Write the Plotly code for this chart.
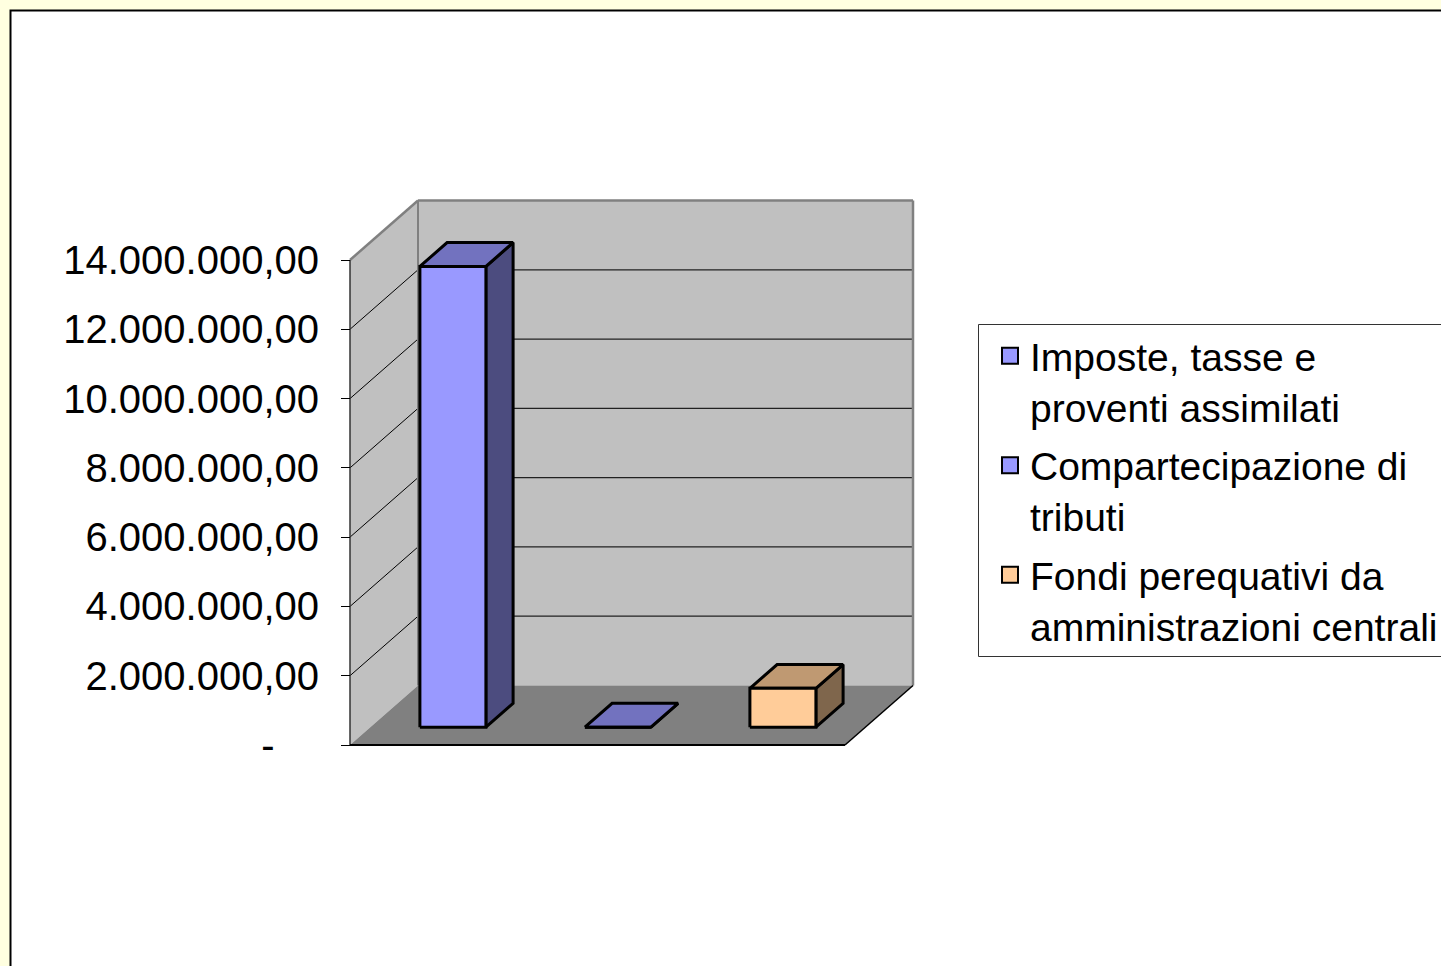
import plotly.graph_objects as go

# ---------------- data ----------------
categories = [
    "Imposte, tasse e proventi assimilati",
    "Compartecipazione di tributi",
    "Fondi perequativi da amministrazioni centrali",
]
legend_labels = [
    "Imposte, tasse e<br>proventi assimilati",
    "Compartecipazione di<br>tributi",
    "Fondi perequativi da<br>amministrazioni centrali",
]
values = [13300000, 0, 1120000]
bar_colors = ["#9999FF", "#9999FF", "#FFCC99"]
tick_values = [0, 2000000, 4000000, 6000000, 8000000, 10000000, 12000000, 14000000]
tick_labels = ["-\u00a0\u00a0\u00a0\u00a0", "2.000.000,00", "4.000.000,00", "6.000.000,00",
               "8.000.000,00", "10.000.000,00", "12.000.000,00", "14.000.000,00"]

# ---------------- geometry (layout only) ----------------
W, H = 1441, 966
X0_PX, Y0_PX = 350, 745          # front-left-bottom corner of the plot cube
PX_PER_CAT = 165                 # pixels per category slot
VMAX = max(tick_values)
PX_PER_VAL = 485 / VMAX          # pixels per value unit
DEPTH_X_PX, DEPTH_Y_PX = 68, 59.5
DX = DEPTH_X_PX / PX_PER_CAT     # depth offset in x data units
DY = DEPTH_Y_PX / PX_PER_VAL     # depth offset in y data units
N = len(categories)
GAP = 0.3                        # bar starts at 30% of slot (gap width 150%)
D0, D1 = 0.3, 0.7                # bar depth extent (gap depth 150%)

FONT = "Liberation Sans, Arial, sans-serif"


def shade(hexcol, f):
    h = hexcol.lstrip("#")
    r, g, b = (int(h[i:i + 2], 16) for i in (0, 2, 4))
    return "#%02x%02x%02x" % (int(r * f), int(g * f), int(b * f))


fig = go.Figure()


def poly(xs, ys, fill, line_color=None, line_width=0):
    fig.add_trace(go.Scatter(
        x=list(xs) + [xs[0]], y=list(ys) + [ys[0]], mode="lines", fill="toself",
        fillcolor=fill, line=dict(color=line_color or fill, width=line_width),
        hoverinfo="skip", showlegend=False))


def seg(x0, y0, x1, y1, color, width):
    fig.add_trace(go.Scatter(
        x=[x0, x1], y=[y0, y1], mode="lines", line=dict(color=color, width=width),
        hoverinfo="skip", showlegend=False))


# walls and floor
poly([0, DX, DX, 0], [0, DY, DY + VMAX, VMAX], "#C0C0C0")                 # side wall
poly([DX, N + DX, N + DX, DX], [DY, DY, DY + VMAX, DY + VMAX], "#C0C0C0")  # back wall
poly([0, N, N + DX, DX], [0, 0, DY, DY], "#808080")                       # floor

# gridlines
for v in tick_values[1:-1]:
    seg(DX, DY + v, N + DX, DY + v, "#222222", 1.3)
    seg(0, v, DX, DY + v, "#000000", 1)

# wall edges
seg(0, VMAX, DX, DY + VMAX, "#808080", 2.5)
seg(DX, DY + VMAX, N + DX, DY + VMAX, "#808080", 2.5)
seg(N + DX, DY + VMAX, N + DX, DY, "#808080", 2.5)
seg(DX, DY, DX, DY + VMAX, "#808080", 2)
seg(0, 0, 0, VMAX, "#333333", 1.5)
seg(0, 0, N, 0, "#000000", 2)
seg(N, 0, N + DX, DY, "#000000", 1.5)

# bars
for i, (v, c) in enumerate(zip(values, bar_colors)):
    l, r = i + GAP, i + 1 - GAP
    fx0, fx1 = l + D0 * DX, r + D0 * DX
    bx1 = r + D1 * DX
    bl = l + D1 * DX
    fy, by = D0 * DY, D1 * DY
    poly([fx1, bx1, bx1, fx1], [fy, by, by + v, fy + v], shade(c, 0.5), "#000000", 3)   # side
    poly([fx0, fx1, bx1, bl], [fy + v, fy + v, by + v, by + v], shade(c, 0.75), "#000000", 3)  # top
    poly([fx0, fx1, fx1, fx0], [fy, fy, fy + v, fy + v], c, "#000000", 3)             # front

# legend entries
for k, (lab, c) in enumerate(zip(legend_labels, bar_colors)):
    fig.add_trace(go.Scatter(
        x=[None], y=[None], mode="markers", name=lab, legendgroup="g%d" % k,
        marker=dict(symbol="square", size=16, color=c, line=dict(color="#000000", width=2))))

fig.update_layout(
    template="none",
    width=W, height=H,
    margin=dict(l=0, r=0, t=0, b=0, autoexpand=False),
    paper_bgcolor="#FFFFE0",
    plot_bgcolor="rgba(0,0,0,0)",
    font=dict(family=FONT, color="#000000"),
    showlegend=True,
    legend=dict(
        x=990 / W, y=1 - 324 / H, xanchor="left", yanchor="top",
        bgcolor="rgba(0,0,0,0)", borderwidth=0,
        font=dict(family=FONT, size=39, color="#000000"),
        valign="top", itemsizing="trace", tracegroupgap=5,
    ),
    xaxis=dict(visible=False, range=[-X0_PX / PX_PER_CAT, (W - X0_PX) / PX_PER_CAT],
               fixedrange=True, automargin=False),
    yaxis=dict(range=[-(H - Y0_PX) / PX_PER_VAL, Y0_PX / PX_PER_VAL],
               anchor="free", position=X0_PX / W, automargin=False,
               tickvals=tick_values, ticktext=tick_labels,
               ticks="outside", ticklen=9, tickwidth=1, tickcolor="#000000",
               ticklabelstandoff=14,
               tickfont=dict(family=FONT, size=40, color="#000000"),
               showline=False, showgrid=False, zeroline=False, fixedrange=True),
    shapes=[
        dict(type="rect", xref="paper", yref="paper",
             x0=10.5 / W, x1=1.05, y0=-0.05, y1=1 - 10.5 / H,
             fillcolor="#FFFFFF", line=dict(color="#000000", width=2), layer="below"),
        dict(type="rect", xref="paper", yref="paper",
             x0=978.5 / W, x1=1.05, y0=1 - 656.5 / H, y1=1 - 324.5 / H,
             fillcolor="#FFFFFF", line=dict(color="#333333", width=1), layer="below"),
    ],
)

fig.write_html("out.html", config={"displayModeBar": False},
               post_script="document.body.style.margin='0';")
